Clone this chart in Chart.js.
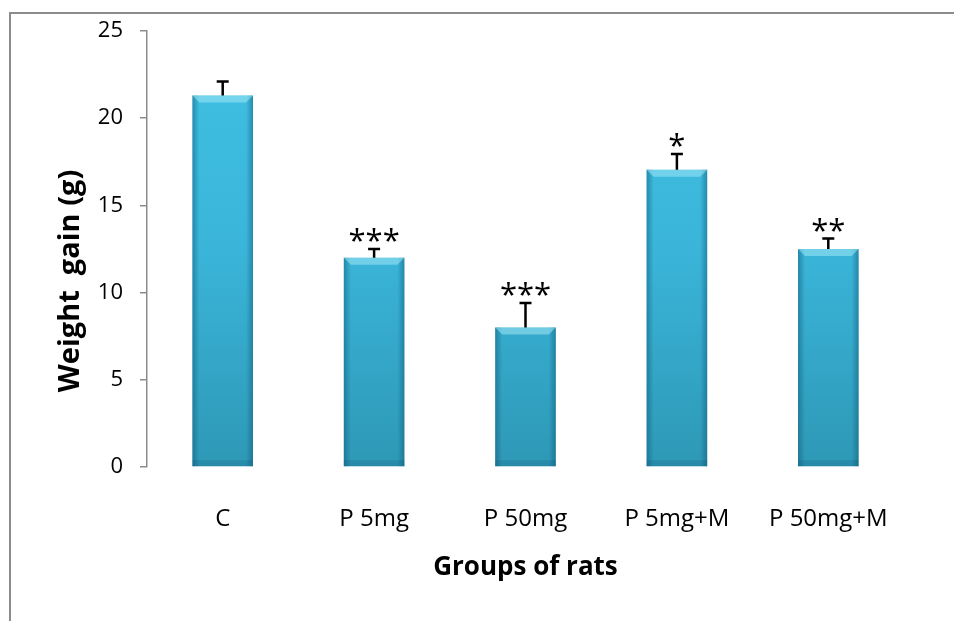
<!DOCTYPE html>
<html>
<head>
<meta charset="utf-8">
<script src="https://cdn.jsdelivr.net/npm/chart.js@4.4.1/dist/chart.umd.min.js"></script>
<style>
  body { margin: 0; background: #fff; }
  #wrap { width: 954px; height: 621px; position: relative; }
</style>
</head>
<body>
<div id="wrap"><canvas id="bar-chart"></canvas></div>
<script>
// data
var groups = ["C", "P 5mg", "P 50mg", "P 5mg+M", "P 50mg+M"];
var weightGain = [21.3, 12.0, 8.0, 17.05, 12.5];
var errors = [0.8, 0.5, 1.4, 0.9, 0.6];
var stars = ["", "***", "***", "*", "**"];
var yTicks = [0, 5, 10, 15, 20, 25];

var FONT = "'Open Sans', 'Liberation Sans', sans-serif";

// frame, bevel on bars, error bars, asterisks and y title
var extras = {
  id: 'extras',
  beforeDraw: function(chart) {
    var ctx = chart.ctx;
    ctx.save();
    ctx.strokeStyle = '#8c8c8c';
    ctx.lineWidth = 2;
    ctx.beginPath();
    ctx.moveTo(10, 640);
    ctx.lineTo(10, 13);
    ctx.lineTo(960, 13);
    ctx.stroke();
    ctx.restore();
  },
  afterDatasetsDraw: function(chart) {
    var ctx = chart.ctx;
    var yScale = chart.scales.y;
    var meta = chart.getDatasetMeta(0);
    ctx.save();
    meta.data.forEach(function(bar, i) {
      var w = bar.width, l = bar.x - w / 2, r = bar.x + w / 2;
      var top = bar.y, bot = bar.base, b = 7;
      // side shading
      var gl = ctx.createLinearGradient(l, 0, l + b, 0);
      gl.addColorStop(0, 'rgba(10,80,110,0.45)');
      gl.addColorStop(1, 'rgba(10,80,110,0)');
      ctx.fillStyle = gl;
      ctx.fillRect(l, top, b, bot - top);
      var gr = ctx.createLinearGradient(r, 0, r - b, 0);
      gr.addColorStop(0, 'rgba(10,80,110,0.45)');
      gr.addColorStop(1, 'rgba(10,80,110,0)');
      ctx.fillStyle = gr;
      ctx.fillRect(r - b, top, b, bot - top);
      // top bevel
      ctx.fillStyle = 'rgba(170,235,250,0.5)';
      ctx.beginPath();
      ctx.moveTo(l, top);
      ctx.lineTo(r, top);
      ctx.lineTo(r - b, top + b);
      ctx.lineTo(l + b, top + b);
      ctx.closePath();
      ctx.fill();
      // bottom shade
      ctx.fillStyle = 'rgba(10,80,110,0.18)';
      ctx.fillRect(l, bot - 6, w, 6);

      // error bar
      var eTop = yScale.getPixelForValue(weightGain[i] + errors[i]);
      ctx.strokeStyle = '#000';
      ctx.lineWidth = 2.5;
      ctx.beginPath();
      ctx.moveTo(bar.x, top);
      ctx.lineTo(bar.x, eTop);
      ctx.moveTo(bar.x - 6, eTop);
      ctx.lineTo(bar.x + 6, eTop);
      ctx.stroke();

      // significance stars
      if (stars[i]) {
        ctx.fillStyle = '#000';
        ctx.font = '31px ' + FONT;
        ctx.textAlign = 'center';
        ctx.textBaseline = 'alphabetic';
        ctx.fillText(stars[i], bar.x, eTop + 2);
      }
    });
    ctx.restore();
  },
  afterDraw: function(chart) {
    var ctx = chart.ctx;
    ctx.save();
    ctx.translate(71, 281);
    ctx.rotate(-Math.PI / 2);
    ctx.font = 'bold 29px ' + FONT;
    ctx.fillStyle = '#000';
    ctx.textAlign = 'center';
    ctx.textBaseline = 'middle';
    ctx.fillText('Weight  gain (g)', 0, 0);
    ctx.restore();
  }
};

function barFill(context) {
  var chart = context.chart;
  var area = chart.chartArea;
  if (!area) return '#38b4d8';
  var g = chart.ctx.createLinearGradient(0, area.top, 0, area.bottom);
  g.addColorStop(0, '#40c1e4');
  g.addColorStop(0.5, '#3ab5d9');
  g.addColorStop(1, '#2e98b6');
  return g;
}

new Chart(document.getElementById("bar-chart"), {
  type: 'bar',
  data: {
    labels: groups,
    datasets: [
      {
        label: "Weight gain (g)",
        backgroundColor: barFill,
        borderWidth: 0,
        data: weightGain,
        barPercentage: 0.4,
        categoryPercentage: 1.0
      }
    ]
  },
  options: {
    responsive: true,
    maintainAspectRatio: false,
    animation: false,
    layout: { padding: { left: 0, top: 31, right: 50, bottom: 0 } },
    plugins: {
      legend: { display: false },
      tooltip: { enabled: false }
    },
    scales: {
      x: {
        grid: { display: false },
        border: { display: false },
        ticks: { color: '#000', font: { family: FONT, size: 24 }, padding: 30, maxRotation: 0 },
        title: {
          display: true,
          text: 'Groups of rats',
          color: '#000',
          font: { family: FONT, size: 26, weight: 'bold' },
          padding: { top: 0, bottom: 38 }
        },
        afterFit: function(scale) { scale.height = 154; }
      },
      y: {
        min: 0,
        max: 25,
        afterBuildTicks: function(scale) {
          scale.ticks = yTicks.map(function(v) { return { value: v }; });
        },
        grid: { display: true, drawOnChartArea: false, drawTicks: true, tickLength: 7, color: '#8c8c8c', lineWidth: 1.5 },
        border: { display: true, color: '#8c8c8c', width: 1.5 },
        ticks: { color: '#000', font: { family: FONT, size: 22 }, padding: 17 },
        afterFit: function(scale) { scale.width = 147; }
      }
    }
  },
  plugins: [extras]
});
</script>
</body>
</html>
